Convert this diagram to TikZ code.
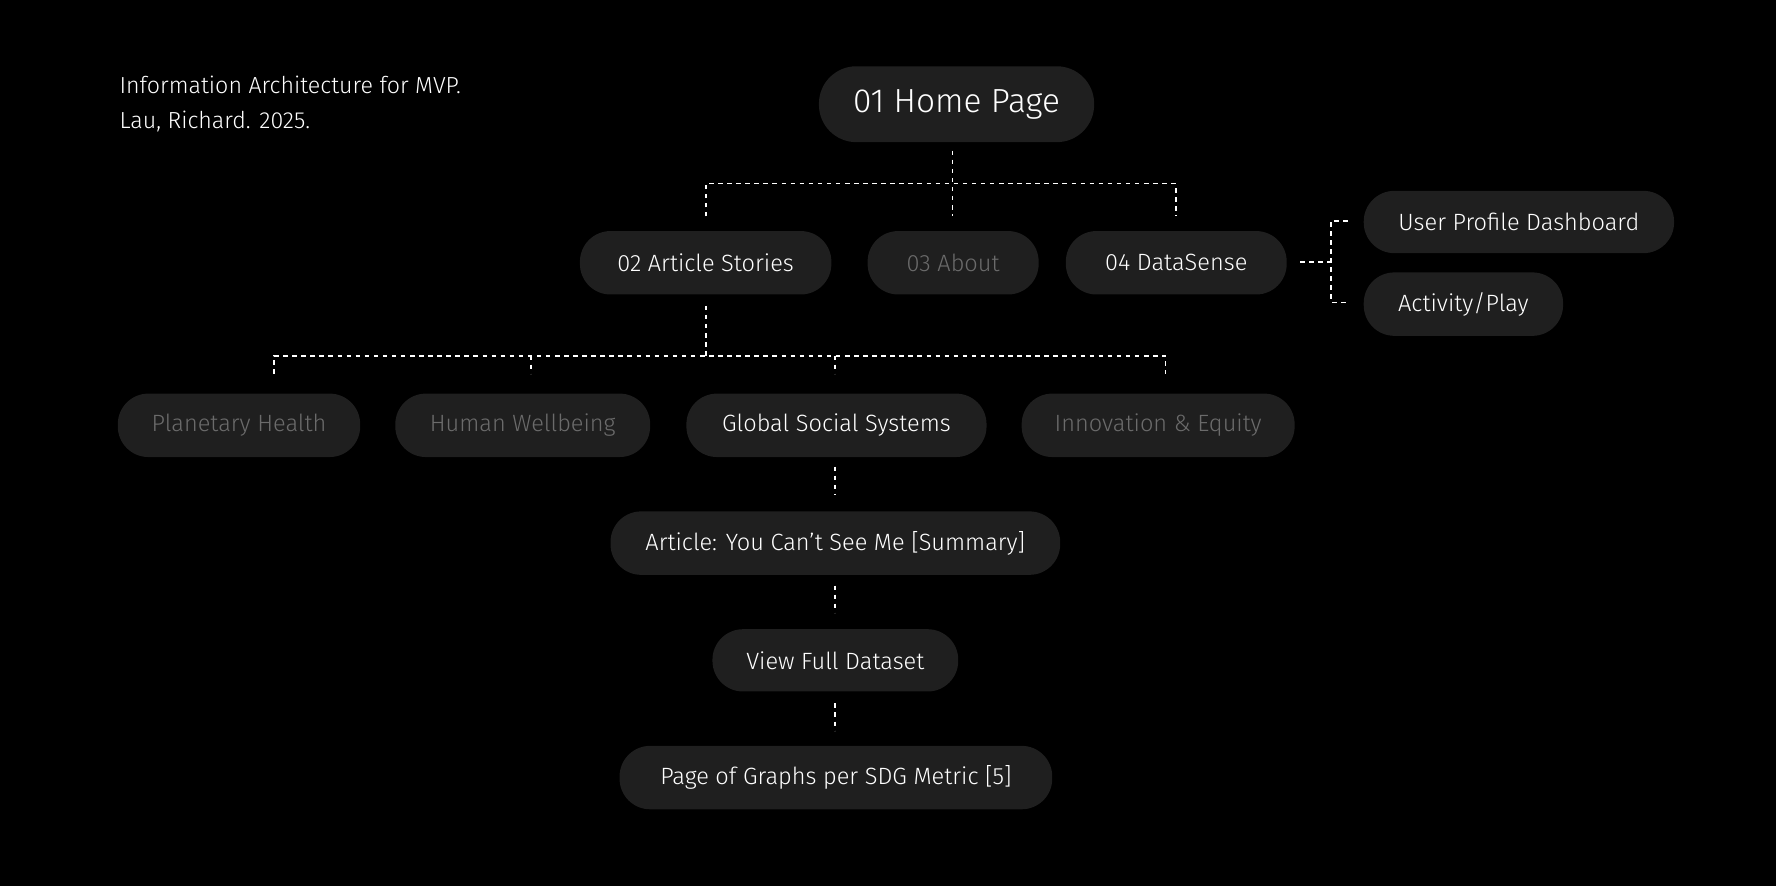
\documentclass[tikz,border=0pt]{standalone}
\usepackage{fontspec}
\setmainfont{Fira Sans Light}
\begin{document}
\begin{tikzpicture}[x=1pt,y=-1pt,
  box/.style={fill=boxc,rounded corners=27pt,minimum height=56pt,text=white,font=\fontsize{20.8}{24}\selectfont,inner sep=0pt},
  dim/.style={text=dimc},
  dl/.style={draw=white,line width=1.6pt,dash pattern=on 4pt off 4pt}]
\definecolor{boxc}{HTML}{1F1F1F}
\definecolor{dimc}{HTML}{6B6B6B}
\fill[black] (0,0) rectangle (1568,782);
\useasboundingbox (0,0) rectangle (1568,782);
\node[anchor=west,text=white,font=\fontsize{20.5}{24}\selectfont,align=left] (title) at (102,92) {Information Architecture for MVP.\\[7pt]Lau, Richard. 2025.};
\node[box,minimum width=243pt,minimum height=67pt,rounded corners=33pt,font=\fontsize{29.5}{34}\selectfont] (home) at (844.5,92) {01 Home Page};
\node[box,minimum width=222pt] (art) at (623,232) {02 Article Stories};
\node[box,dim,minimum width=151pt] (about) at (841.5,232) {03 About};
\node[box,minimum width=195pt] (ds) at (1038.5,232) {04 DataSense};
\node[box,minimum width=274pt,minimum height=55pt] (up) at (1341,196) {User Profile Dashboard};
\node[box,minimum width=176pt] (act) at (1292,268.5) {Activity/Play};
\node[box,dim,minimum width=214pt] (ph) at (211,375.5) {Planetary Health};
\node[box,dim,minimum width=225pt] (hw) at (461.5,375.5) {Human Wellbeing};
\node[box,minimum width=265pt] (gss) at (738.5,375.5) {Global Social Systems};
\node[box,dim,minimum width=241pt] (ie) at (1022.5,375.5) {Innovation \& Equity};
\node[box,minimum width=397pt] (sum) at (737.5,479.5) {Article: You Can’t See Me [Summary]};
\node[box,minimum width=217pt,minimum height=55pt] (vfd) at (737.5,583) {View Full Dataset};
\node[box,minimum width=382pt] (pg) at (738,686.5) {Page of Graphs per SDG Metric [5]};
% home tree
\coordinate (h0) at (841,133); \coordinate (h1) at (841,191);
\coordinate (hl) at (623,162); \coordinate (hr) at (1038,162);
\draw[dl] (h0) -- (h1);
\draw[dl] (623,191) -- (hl) -- (hr) -- (1038,191);
% article tree
\coordinate (a0) at (623,270); \coordinate (al) at (242,314); \coordinate (ar) at (1029,314);
\draw[dl] (a0) -- (623,314);
\draw[dl] (242,330) -- (al) -- (ar) -- (1029,330);
\draw[dl] (469,314) -- (469,330);
\draw[dl] (737,314) -- (737,330);
% vertical chain
\draw[dl] (737,412) -- (737,437);
\draw[dl] (737,517) -- (737,541);
\draw[dl] (737,621) -- (737,645);
% datasense branch
\coordinate (d0) at (1148,231); \coordinate (dm) at (1175,231);
\draw[dl] (d0) -- (dm);
\draw[dl] (1190,195) -- (1175,195) -- (1175,267) -- (1190,267);
\end{tikzpicture}
\end{document}
